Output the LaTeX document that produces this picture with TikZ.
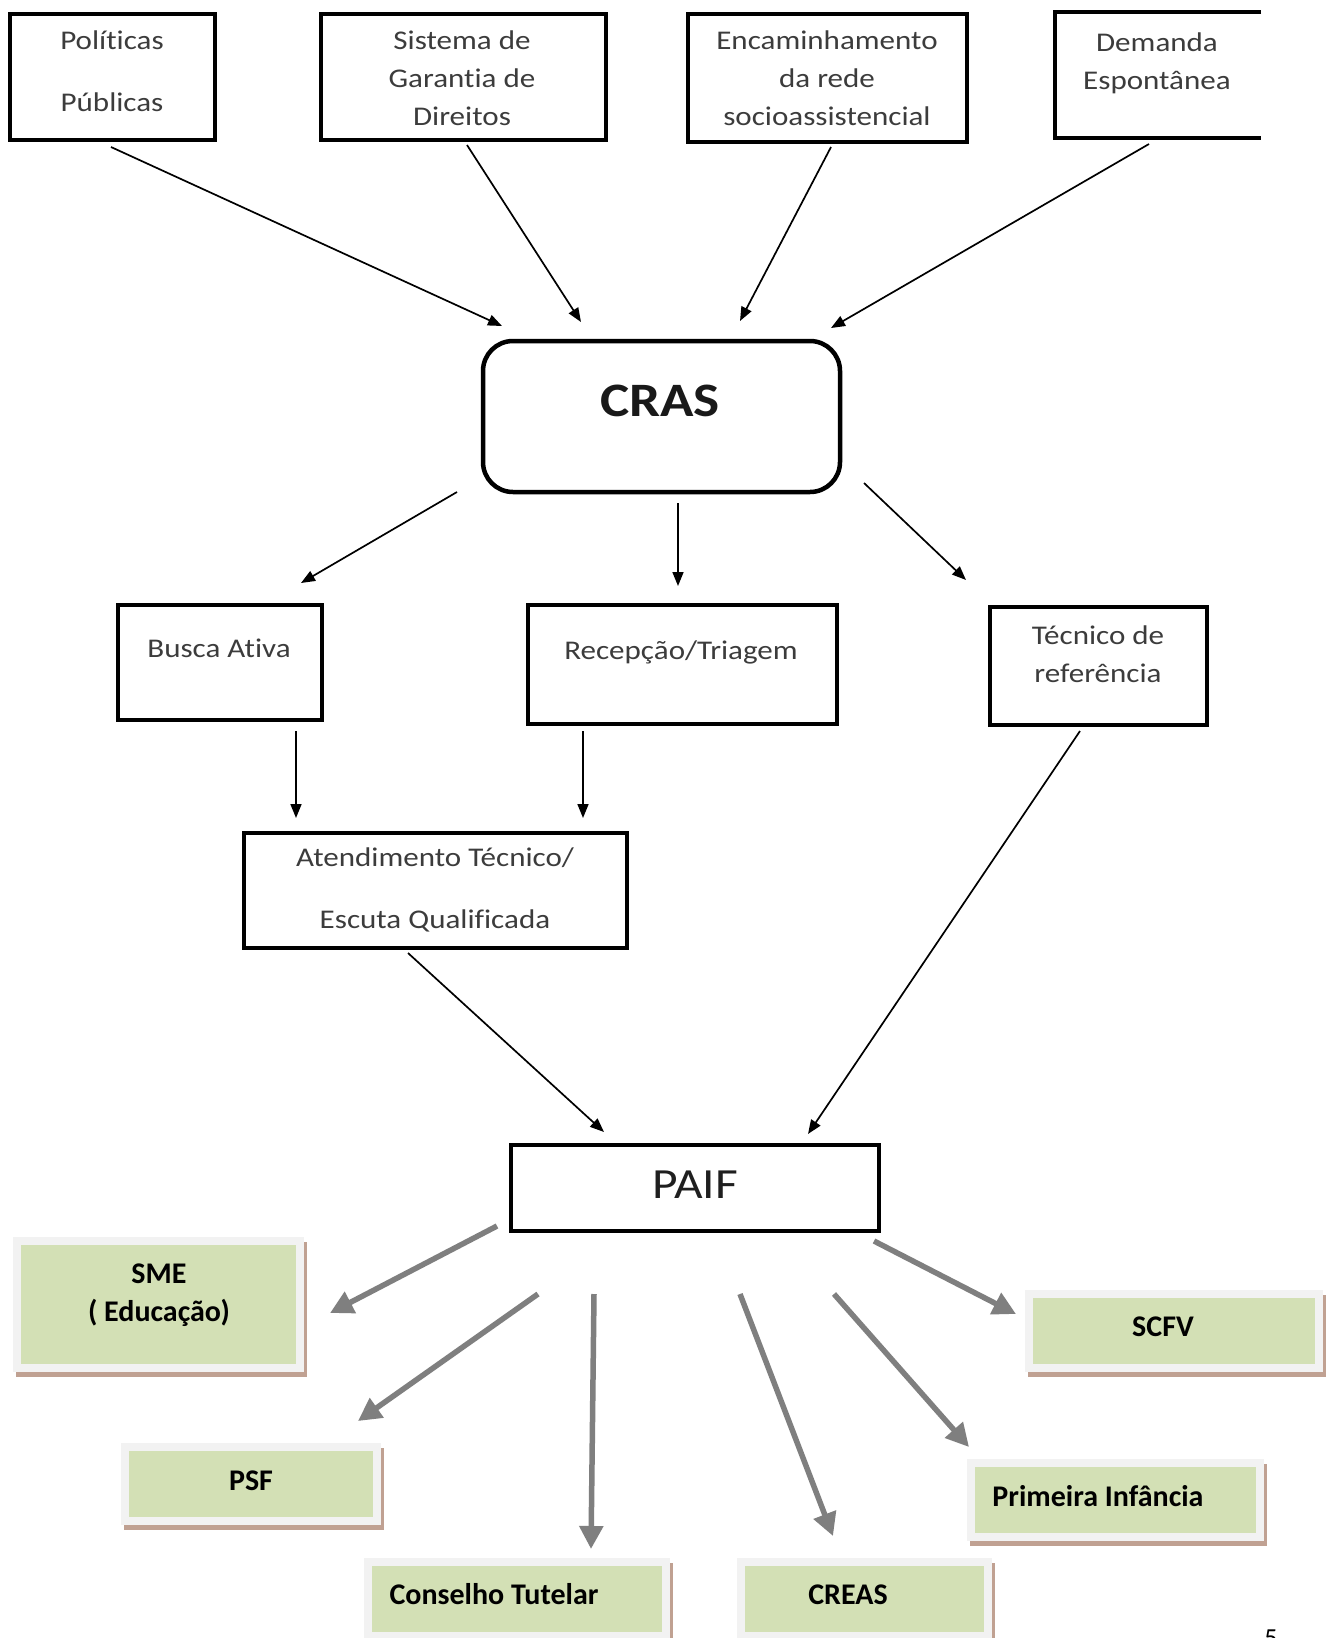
\documentclass[tikz,border=0pt]{standalone}
\usepackage{fontspec}
\setmainfont{Carlito}[RawFeature={-liga}]
\newfontfamily\bxf{Carlito}[FakeStretch=1.15,RawFeature={-liga}]
\usetikzlibrary{arrows.meta,calc}
\definecolor{gfill}{HTML}{D3E0B5}
\definecolor{gedge}{HTML}{F2F2F2}
\definecolor{gshadow}{HTML}{C0A192}
\definecolor{garrow}{HTML}{7F7F7F}
\definecolor{txt}{HTML}{3C3C3C}
\begin{document}
\begin{tikzpicture}[x=1pt,y=-1pt,
  bbox/.style={draw=black,line width=4.5pt,outer sep=0pt,inner sep=0pt},
  gbox/.style={fill=gfill,draw=gedge,line width=8pt,outer sep=0pt,inner sep=0pt,
    preaction={draw=gshadow,fill=gshadow,line width=8pt,transform canvas={xshift=3pt,yshift=-5pt}}},
  tx/.style={font=\bxf\fontsize{27}{38}\selectfont,text=txt,align=center,inner sep=0pt},
  gtx/.style={font=\bfseries\fontsize{30}{38}\selectfont,text=black,align=center,inner sep=0pt},
  arr/.style={line width=1.7pt,-{Triangle[length=14pt,width=11pt]}},
  garr/.style={draw=garrow,line width=5.5pt,-{Triangle[length=23pt,width=23pt]}}
]
\useasboundingbox[fill=white] (0,0) rectangle (1327,1638);

% top boxes
\node[bbox,minimum width=205pt,minimum height=126pt] (pol) at (112.5,77) {};
\node[bbox,minimum width=285pt,minimum height=126pt] (sis) at (463.5,77) {};
\node[bbox,minimum width=279pt,minimum height=128pt] (enc) at (827.5,78) {};
\node[draw=none,outer sep=0pt,minimum width=206pt,minimum height=126pt] (dem) at (1158,75) {};
\draw[line width=4.5pt] (dem.north east) -- (dem.north west) -- (dem.south west) -- (dem.south east);

\node[tx,anchor=center] (polt) at (112,71) {Políticas\\[24pt]Públicas};
\node[tx,anchor=center] (sist) at (462,78) {Sistema de\\Garantia de\\Direitos};
\node[tx,anchor=center] (enct) at (827,78) {Encaminhamento\\da rede\\socioassistencial};
\node[tx,anchor=center] (demt) at (1157,63) {Demanda\\Espontânea};

% CRAS
\node[bbox,rounded corners=30pt,minimum width=357pt,minimum height=151pt] (cras) at (661.5,416.5) {};
\node[font=\bxf\bfseries\fontsize{48}{50}\selectfont,text=black!90,inner sep=0pt,anchor=base] (crast) at (660,416) {CRAS};

% second row
\node[bbox,minimum width=204pt,minimum height=115pt] (busca) at (220,662.5) {};
\node[bbox,minimum width=309pt,minimum height=119pt] (rec) at (682.5,664.5) {};
\node[bbox,minimum width=217pt,minimum height=118pt] (tec) at (1098.5,666) {};
\node[tx,anchor=base] (buscat) at (219,657) {Busca Ativa};
\node[tx,anchor=base] (rect) at (681,659) {Recepção/Triagem};
\node[tx,anchor=center] (tect) at (1098,654) {Técnico de\\referência};

% atendimento
\node[bbox,minimum width=383pt,minimum height=115pt] (ate) at (435.5,890.5) {};
\node[tx,anchor=center] (atet) at (435,890) {Atendimento Técnico/\\[24pt]Escuta Qualificada};

% PAIF
\node[bbox,minimum width=368pt,minimum height=86pt] (paif) at (695,1188) {};
\node[font=\bxf\fontsize{43}{45}\selectfont,text=black!88,inner sep=0pt,anchor=base] (paift) at (695,1198) {PAIF};

% green boxes
\node[gbox,minimum width=283pt,minimum height=127pt] (sme) at (158.5,1304.5) {};
\node[gbox,minimum width=290pt,minimum height=74pt] (scfv) at (1174,1331) {};
\node[gbox,minimum width=289pt,minimum height=74pt] (pri) at (1115.5,1500) {};
\node[gbox,minimum width=252pt,minimum height=74pt] (psf) at (251,1484) {};
\node[gbox,minimum width=298pt,minimum height=74pt] (con) at (517,1599) {};
\node[gbox,minimum width=247pt,minimum height=74pt] (cre) at (864.5,1599) {};

\node[gtx,anchor=center] (smet) at (159,1295) {SME\\( Educação)};
\node[gtx,anchor=base] (scfvt) at (1163,1336) {SCFV};
\node[gtx,anchor=base] (prit) at (1098,1506) {Primeira Infância};
\node[gtx,anchor=base] (psft) at (251,1490) {PSF};
\node[gtx,anchor=base] (cont) at (494,1604) {Conselho Tutelar};
\node[gtx,anchor=base] (cret) at (848,1604) {CREAS};

% page number (cut off at the lower edge, as in the reference)
\node[font=\fontsize{26}{28}\selectfont,inner sep=0pt,anchor=north] (pg) at (1271,1630) {5};

% thin arrows
\draw[arr] ($(pol.south)+(-1.5,7)$) -- ($(cras.north west)+(19,-15)$);
\draw[arr] ($(sis.south)+(3.5,5)$) -- ($(cras.north)+(-80.5,-19)$);
\draw[arr] ($(enc.south)+(3.5,5)$) -- ($(cras.north)+(78.5,-20)$);
\draw[arr] ($(dem.south)+(-9,6)$) -- ($(cras.north east)+(-9,-13)$);
\draw[arr] ($(cras.south west)+(-26,0)$) -- ($(busca.north)+(81,-22)$);
\draw[arr] ($(cras.south)+(16.5,11)$) -- ($(rec.north)+(-4.5,-19)$);
\draw[arr] ($(cras.south east)+(24,-9)$) -- ($(tec.north west)+(-24,-27)$);
\draw[arr] ($(busca.south)+(76,11)$) -- ($(ate.north)+(-139.5,-15)$);
\draw[arr] ($(rec.south)+(-99.5,7)$) -- ($(ate.north)+(147.5,-15)$);
\draw[arr] ($(ate.south)+(-27.5,5)$) -- ($(paif.north)+(-91,-13)$);
\draw[arr] ($(tec.south)+(-18.5,6)$) -- ($(paif.north)+(113,-11)$);

% grey arrows
\draw[garr] ($(paif.south west)+(-14,-5)$) -- ($(sme.east)+(30,8.5)$);
\draw[garr] ($(paif.south)+(-157,63)$) -- ($(psf.north)+(107,-26)$);
\draw[garr] ($(paif.south)+(-101,63)$) -- ($(con.north)+(74,-13)$);
\draw[garr] ($(paif.south)+(45,63)$) -- ($(cre.north)+(-31.5,-26)$);
\draw[garr] ($(paif.south)+(139,63)$) -- ($(pri.north west)+(-2,-16)$);
\draw[garr] ($(paif.south east)+(-5,10)$) -- ($(scfv.west)+(-13,-17)$);
\end{tikzpicture}
\end{document}
